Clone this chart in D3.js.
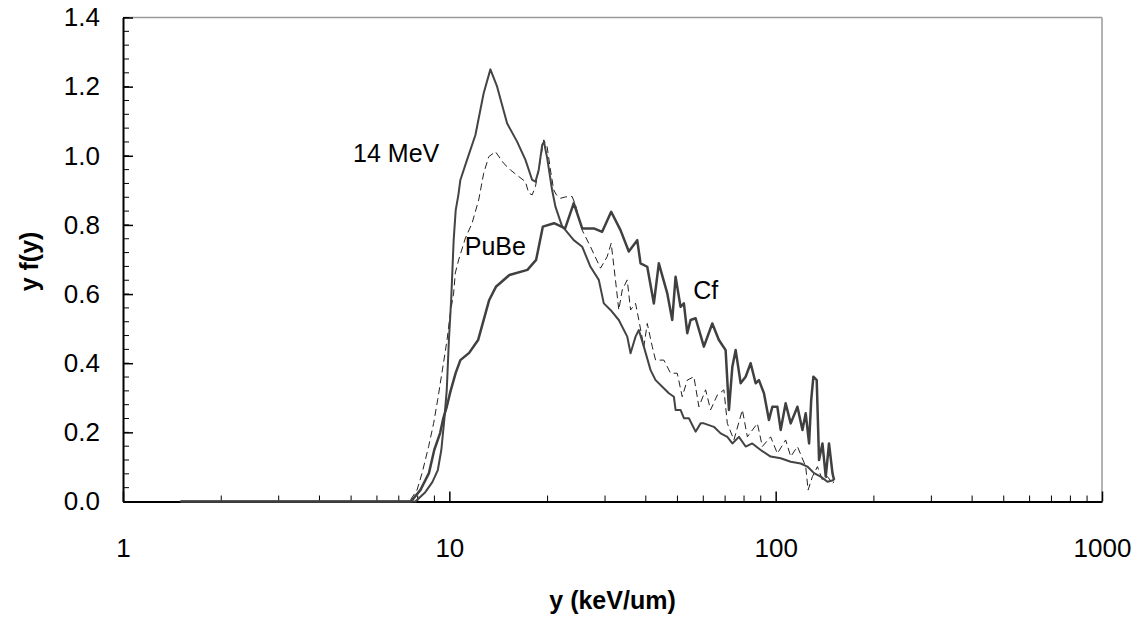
<!DOCTYPE html>
<style>
body { margin: 0; background: #fff; }
text { font-family: "Liberation Sans", Arial, sans-serif; }
.tick text { font-size: 26px; fill: #000; }
.title { font-size: 25px; font-weight: bold; }
.note { font-size: 25px; }
</style>
<svg width="1143" height="622"></svg>
<script src="https://d3js.org/d3.v7.min.js"></script>
<script>
// 14 MeV neutrons
var mev14X = [1.5, 7.87, 8.44, 8.87, 9.22, 9.45, 9.65, 9.82, 9.97, 10.13, 10.31, 10.46, 10.66, 10.81, 11.33, 12.02, 12.74, 13.36, 14.01, 15.03, 16.13, 17.11, 17.94, 18.36, 18.79, 19.25, 19.5, 19.94, 20.65, 21.14, 22.17, 22.69, 24.06, 25.53, 27.07, 28.71, 29.74, 31.18, 33.06, 35.09, 35.92, 37.21, 38.08, 39.45, 41.37, 42.85, 44.93, 47.07, 48.76, 49.35, 51.12, 52.33, 54.22, 56.84, 58.88, 60.26, 64.66, 67.82, 71.1, 73.67, 77.17, 80.91, 84.8, 89.95, 96.5, 103.6, 111.2, 119.3, 125.1, 131.1, 137.4, 144.1, 151.0];
var mev14Y = [0, 0, 0.027, 0.056, 0.091, 0.149, 0.236, 0.323, 0.467, 0.583, 0.756, 0.843, 0.887, 0.93, 0.988, 1.06, 1.181, 1.25, 1.2, 1.094, 1.041, 0.988, 0.93, 0.925, 0.959, 1.031, 1.04, 0.994, 0.901, 0.853, 0.795, 0.785, 0.756, 0.737, 0.679, 0.641, 0.573, 0.554, 0.525, 0.477, 0.429, 0.477, 0.496, 0.448, 0.38, 0.351, 0.332, 0.313, 0.303, 0.265, 0.265, 0.241, 0.241, 0.202, 0.226, 0.226, 0.216, 0.197, 0.187, 0.168, 0.187, 0.159, 0.168, 0.149, 0.13, 0.125, 0.115, 0.11, 0.101, 0.082, 0.072, 0.057, 0.062];

// PuBe neutrons
var pubeX = [1.5, 7.54, 7.96, 8.25, 8.64, 8.95, 9.21, 9.52, 9.84, 10.07, 10.31, 10.43, 10.68, 11.2, 11.74, 12.3, 12.74, 13.2, 13.84, 14.68, 15.39, 16.32, 17.11, 17.51, 17.94, 18.36, 19.02, 19.47, 19.94, 20.41, 20.89, 21.29, 21.9, 22.69, 23.79, 24.35, 25.53, 27.07, 29.06, 30.45, 31.33, 32.29, 33.06, 33.87, 35.09, 35.92, 37.21, 38.08, 39.45, 40.41, 41.87, 42.85, 45.44, 47.64, 49.94, 51.72, 53.59, 56.16, 58.18, 61.0, 63.18, 66.25, 69.41, 71.1, 74.48, 79.06, 81.9, 87.87, 91.03, 96.5, 101.2, 107.3, 111.2, 116.6, 123.6, 125.7, 129.6, 134.3, 139.1, 144.1, 149.3, 151];
var pubeY = [0, 0, 0.033, 0.082, 0.159, 0.226, 0.294, 0.38, 0.467, 0.545, 0.603, 0.661, 0.699, 0.762, 0.805, 0.872, 0.949, 0.997, 1.012, 0.978, 0.959, 0.94, 0.925, 0.892, 0.887, 0.911, 0.988, 1.046, 1.026, 0.959, 0.901, 0.887, 0.877, 0.881, 0.882, 0.858, 0.785, 0.737, 0.675, 0.708, 0.747, 0.641, 0.554, 0.612, 0.641, 0.554, 0.573, 0.525, 0.448, 0.515, 0.448, 0.409, 0.409, 0.371, 0.371, 0.303, 0.351, 0.361, 0.274, 0.323, 0.265, 0.308, 0.323, 0.226, 0.178, 0.265, 0.187, 0.226, 0.159, 0.187, 0.139, 0.178, 0.13, 0.159, 0.101, 0.033, 0.072, 0.101, 0.062, 0.072, 0.053, 0.057];

// Cf-252 neutrons
var cfX = [1.5, 7.63, 8.15, 8.66, 8.99, 9.37, 9.59, 9.82, 10.07, 10.46, 10.81, 11.5, 12.25, 13.25, 13.89, 15.28, 17.35, 18.45, 19.34, 20.94, 22.64, 24.06, 25.53, 27.71, 29.4, 31.33, 33.46, 35.48, 37.65, 38.54, 40.41, 42.34, 43.85, 46.54, 48.2, 49.35, 51.12, 52.33, 53.59, 54.86, 56.84, 60.26, 63.94, 66.99, 70.25, 71.92, 73.67, 75.41, 78.11, 80.91, 83.81, 86.83, 88.87, 92.07, 95.37, 97.7, 101.2, 103.6, 107.3, 111.2, 116.6, 120.8, 123.6, 126.6, 128.5, 130.5, 133.6, 135.8, 139.1, 142.4, 145.7, 149.3, 151.0];
var cfY = [0, 0, 0.033, 0.082, 0.149, 0.198, 0.242, 0.274, 0.317, 0.372, 0.409, 0.43, 0.467, 0.583, 0.621, 0.655, 0.67, 0.699, 0.795, 0.805, 0.79, 0.863, 0.79, 0.79, 0.78, 0.838, 0.785, 0.723, 0.756, 0.689, 0.679, 0.573, 0.689, 0.602, 0.525, 0.65, 0.563, 0.573, 0.487, 0.525, 0.53, 0.448, 0.515, 0.467, 0.438, 0.265, 0.39, 0.438, 0.342, 0.361, 0.4, 0.342, 0.351, 0.313, 0.236, 0.274, 0.274, 0.207, 0.284, 0.226, 0.274, 0.207, 0.255, 0.168, 0.294, 0.361, 0.351, 0.12, 0.168, 0.072, 0.168, 0.082, 0.062];

var xTickValues = [1, 10, 100, 1000];
var yTickValues = [0, 0.2, 0.4, 0.6, 0.8, 1.0, 1.2, 1.4];

var svg = d3.select("svg"),
    margin = {top: 17.5, right: 41, bottom: 120.5, left: 123},
    width = +svg.attr("width") - margin.left - margin.right,
    height = +svg.attr("height") - margin.top - margin.bottom,
    g = svg.append("g").attr("transform", "translate(" + margin.left + "," + margin.top + ")");

var x = d3.scaleLog().domain([1, 1000]).range([0, width]);
var y = d3.scaleLinear().domain([0, 1.4]).range([height, 0]);

// frame: top and right in grey
g.append("line").attr("x1", 0).attr("x2", width).attr("y1", 0).attr("y2", 0)
  .attr("stroke", "#9a9a9a").attr("stroke-width", 1.5);
g.append("line").attr("x1", width).attr("x2", width).attr("y1", 0).attr("y2", height)
  .attr("stroke", "#9a9a9a").attr("stroke-width", 1.5);

// minor ticks
var xMinor = [];
[1, 10, 100].forEach(function(d) { for (var k = 2; k <= 9; k++) xMinor.push(d * k); });
g.append("g").selectAll("line").data(xMinor).enter().append("line")
  .attr("x1", function(d) { return x(d); }).attr("x2", function(d) { return x(d); })
  .attr("y1", height).attr("y2", height - 6)
  .attr("stroke", "#000").attr("stroke-width", 1);
g.append("g").selectAll("line").data(d3.range(0, 1.4001, 0.04)).enter().append("line")
  .attr("x1", 0).attr("x2", 6)
  .attr("y1", function(d) { return y(d); }).attr("y2", function(d) { return y(d); })
  .attr("stroke", "#000").attr("stroke-width", 1);

var xAxis = g.append("g")
  .attr("transform", "translate(0," + height + ")")
  .call(d3.axisBottom(x).tickValues(xTickValues).tickFormat(d3.format("d")).tickSizeInner(-10).tickSizeOuter(0).tickPadding(37));
xAxis.select(".domain").attr("stroke-width", 2);
xAxis.selectAll(".tick line").attr("stroke-width", 1.5);

var yAxis = g.append("g")
  .call(d3.axisLeft(y).tickValues(yTickValues).tickFormat(d3.format(".1f")).tickSizeInner(-10).tickSizeOuter(0).tickPadding(23));
yAxis.select(".domain").attr("stroke-width", 2);
yAxis.selectAll(".tick line").attr("stroke-width", 1.5);

var line = d3.line()
  .x(function(d) { return x(d[0]); })
  .y(function(d) { return y(d[1]); });

function pairs(xs, ys) { return xs.map(function(v, i) { return [v, ys[i]]; }); }

g.append("path").attr("d", line(pairs(pubeX, pubeY)))
  .attr("fill", "none").attr("stroke", "#222").attr("stroke-width", 1)
  .attr("stroke-dasharray", "7,4");
g.append("path").attr("d", line(pairs(mev14X, mev14Y)))
  .attr("fill", "none").attr("stroke", "#444").attr("stroke-width", 2)
  .attr("stroke-linejoin", "round");
g.append("path").attr("d", line(pairs(cfX, cfY)))
  .attr("fill", "none").attr("stroke", "#404040").attr("stroke-width", 2.5)
  .attr("stroke-linejoin", "round");

// labels on the curves
g.append("text").attr("class", "note").attr("x", x(5.07)).attr("y", y(0.983)).text("14 MeV");
g.append("text").attr("class", "note").attr("x", x(11.15)).attr("y", y(0.713)).text("PuBe");
g.append("text").attr("class", "note").attr("x", x(55.9)).attr("y", y(0.586)).text("Cf");

// axis titles
svg.append("text").attr("class", "title")
  .attr("x", margin.left + width / 2).attr("y", 609)
  .attr("text-anchor", "middle").text("y (keV/um)");
svg.append("text").attr("class", "title")
  .attr("transform", "translate(38," + (margin.top + height / 2 + 2) + ") rotate(-90)")
  .attr("text-anchor", "middle").text("y f(y)");
</script>
